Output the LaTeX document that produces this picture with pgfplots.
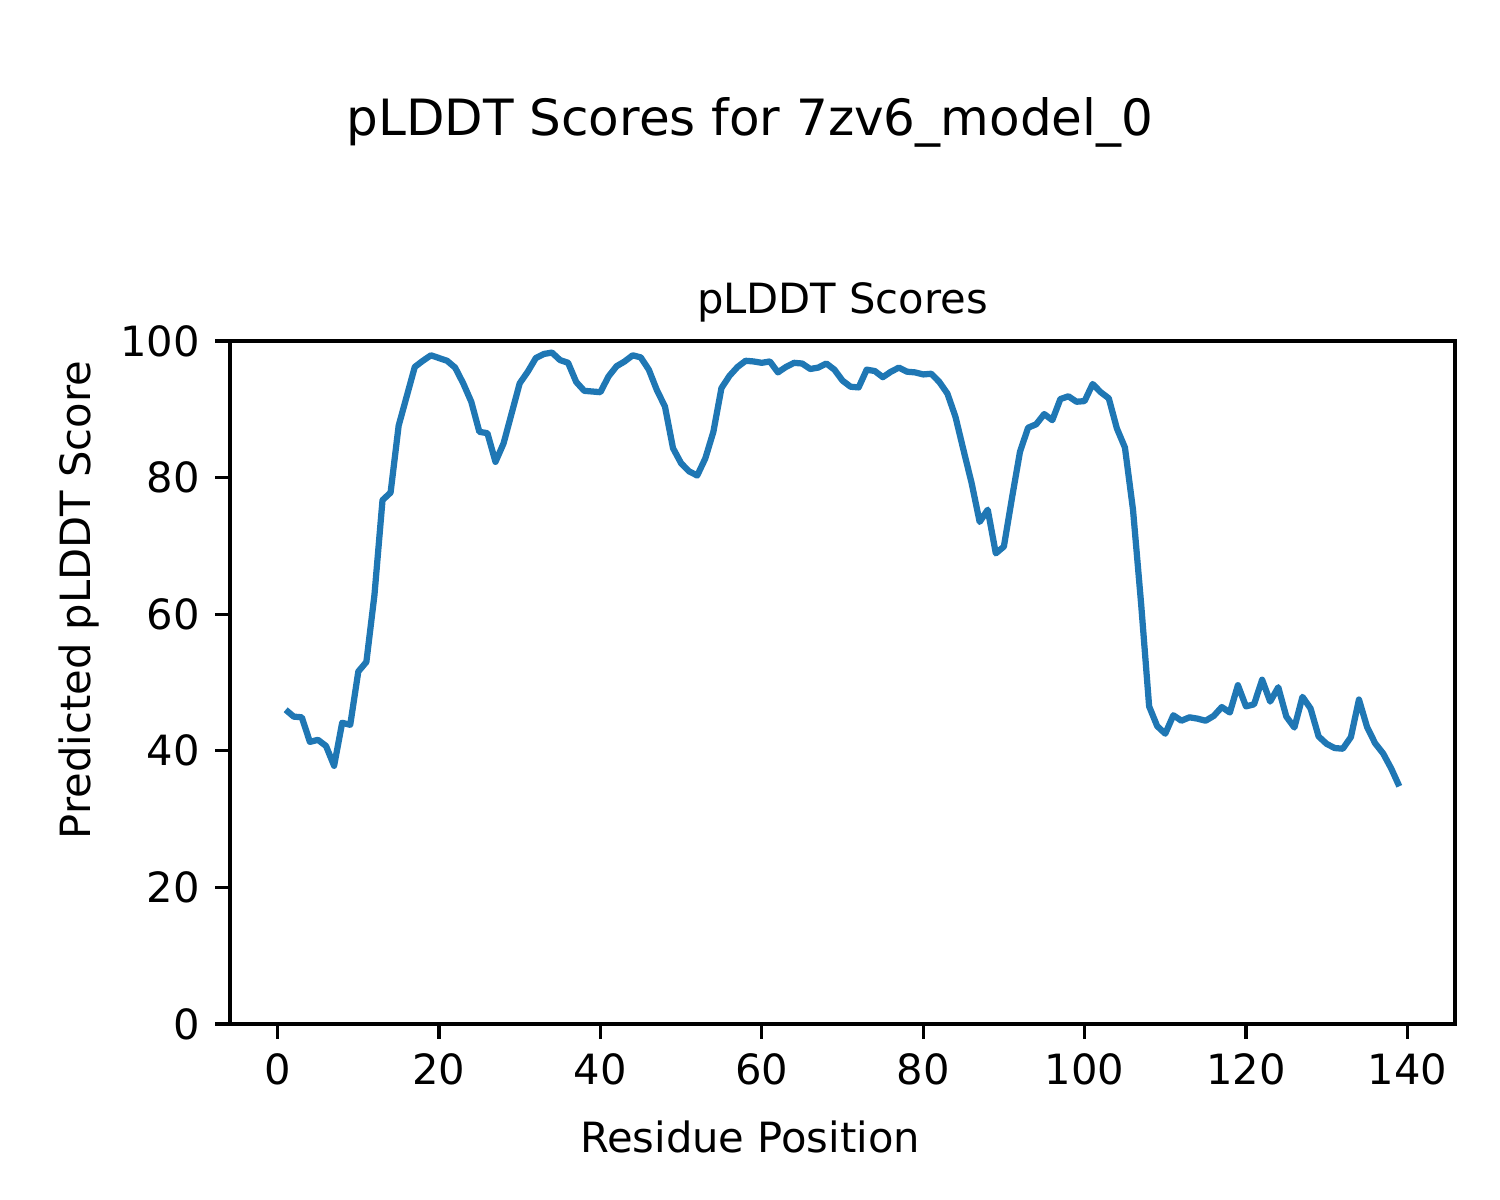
\documentclass[border=0pt]{standalone}
\usepackage{fontspec}
\setmainfont{DejaVu Sans}
\usepackage{pgfplots}
\pgfplotsset{compat=1.18}
\usepackage{pgfplotstable}

\definecolor{mplblue}{HTML}{1F77B4}

% residue position vs pLDDT score
\pgfplotstableread{
res score
1 46.0
2 45.0
3 44.9
4 41.3
5 41.6
6 40.7
7 37.8
8 44.1
9 43.8
10 51.6
11 53.0
12 62.8
13 76.7
14 77.8
15 87.6
16 91.9
17 96.2
18 97.1
19 97.9
20 97.5
21 97.1
22 96.1
23 93.8
24 91.1
25 86.7
26 86.5
27 82.3
28 85.0
29 89.4
30 93.8
31 95.5
32 97.5
33 98.1
34 98.3
35 97.2
36 96.8
37 94.0
38 92.7
39 92.6
40 92.5
41 94.8
42 96.3
43 97.0
44 97.9
45 97.6
46 95.8
47 92.8
48 90.4
49 84.3
50 82.1
51 80.9
52 80.3
53 82.8
54 86.7
55 93.1
56 94.9
57 96.2
58 97.1
59 97.0
60 96.8
61 97.0
62 95.4
63 96.2
64 96.8
65 96.7
66 95.9
67 96.1
68 96.7
69 95.8
70 94.2
71 93.3
72 93.2
73 95.8
74 95.6
75 94.7
76 95.5
77 96.1
78 95.5
79 95.4
80 95.1
81 95.2
82 94.0
83 92.3
84 88.9
85 84.0
86 79.2
87 73.5
88 75.3
89 68.9
90 69.9
91 77.0
92 83.8
93 87.3
94 87.8
95 89.3
96 88.4
97 91.5
98 91.9
99 91.1
100 91.2
101 93.7
102 92.5
103 91.6
104 87.2
105 84.4
106 75.3
107 61.6
108 46.5
109 43.6
110 42.5
111 45.2
112 44.4
113 44.9
114 44.7
115 44.4
116 45.1
117 46.4
118 45.6
119 49.6
120 46.5
121 46.8
122 50.4
123 47.2
124 49.3
125 45.0
126 43.4
127 47.9
128 46.2
129 42.1
130 41.0
131 40.4
132 40.3
133 42.0
134 47.5
135 43.5
136 41.1
137 39.6
138 37.4
139 34.8
}\plddt

\begin{document}
\begin{tikzpicture}
\path[use as bounding box] (0,0) rectangle (360pt,288pt);

\begin{axis}[
  at={(55.2pt,42.24pt)}, anchor=south west,
  scale only axis,
  width=294pt, height=163.92pt,
  xmin=-5.9, xmax=145.9,
  ymin=0, ymax=100,
  xtick={0,20,...,140},
  ytick={0,20,...,100},
  axis line style={line width=0.8pt},
  tick style={line width=0.8pt, black},
  major tick length=3.5pt,
  tick align=outside,
  xtick pos=bottom, ytick pos=left,
  /pgf/number format/assume math mode=true,
  tick label style={font=\fontsize{10}{12}\selectfont},
  xticklabel style={inner sep=0pt, yshift=-3.5pt},
  yticklabel style={inner sep=0pt, xshift=-3.5pt},
  title={pLDDT Scores},
  title style={font=\fontsize{10}{12}\selectfont, at={(0.5,1)}, anchor=base, yshift=0.7pt, inner sep=0pt},
]
\addplot[color=mplblue, line width=1.5pt, line join=round] table[x=res, y=score] {\plddt};
\end{axis}

\node[font=\fontsize{12}{14}\selectfont, anchor=base, inner sep=0pt] at (180pt,255.4pt) {pLDDT Scores for 7zv6\_model\_0};
\node[font=\fontsize{10}{12}\selectfont, anchor=base, inner sep=0pt] at (180pt,11.5pt) {Residue Position};
\node[font=\fontsize{10}{12}\selectfont, anchor=base, rotate=90, inner sep=0pt] at (21.8pt,144pt) {Predicted pLDDT Score};
\end{tikzpicture}
\end{document}
